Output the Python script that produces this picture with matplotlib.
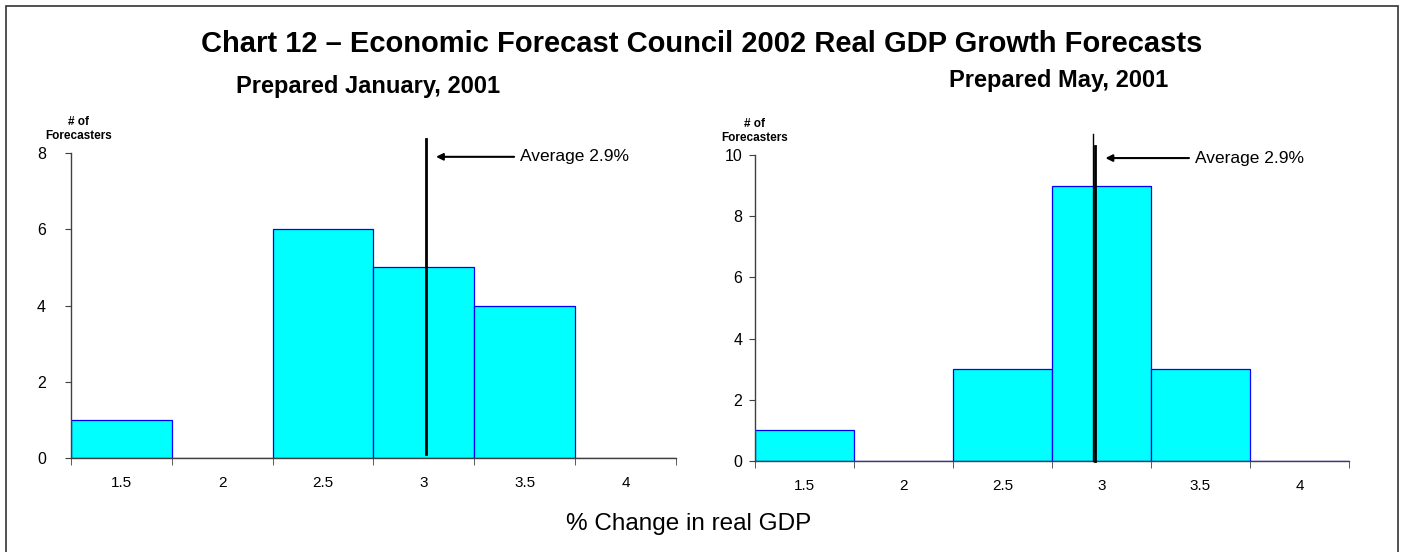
import matplotlib
matplotlib.use("Agg")
from matplotlib import pyplot as plt
from matplotlib.patches import Rectangle

plt.rcParams['font.family'] = ['Liberation Sans', 'DejaVu Sans']

# growth-rate bins (% change in real GDP) and number of forecasters in each
bins = ["1.5", "2", "2.5", "3", "3.5", "4"]
counts_jan = [1, 0, 6, 5, 4, 0]
counts_may = [1, 0, 3, 9, 3, 0]

avg_label = "Average 2.9%"
# where the average marker sits, in bin-index units
avg_pos_jan = 3.02
avg_pos_may = 2.91

FILL = "#00FFFF"
EDGE = "#0000FF"
AXIS = "#404040"


def draw_panel(ax, counts, ymax, yticks, ypad, label_x):
    x = range(len(bins))
    ax.bar(x, counts, width=1.0, color=FILL, edgecolor=EDGE, linewidth=0.9, zorder=2)
    ax.set_xlim(-0.5, len(bins) - 0.5)
    ax.set_ylim(0, ymax)
    ax.set_yticks(yticks)
    ax.set_xticks(list(x))
    ax.set_xticklabels(bins, fontsize=11)
    ax.tick_params(axis='x', length=0, pad=13)
    # tick marks on the bin boundaries
    ax.set_xticks([i - 0.5 for i in range(len(bins) + 1)], minor=True)
    ax.tick_params(axis='x', which='minor', length=5, color=AXIS, direction='out')
    ax.tick_params(axis='y', labelsize=11.5, length=4, color=AXIS, pad=ypad)
    for side in ("top", "right"):
        ax.spines[side].set_visible(False)
    for side in ("left", "bottom"):
        ax.spines[side].set_color(AXIS)
        ax.spines[side].set_linewidth(1.0)
    ax.text(label_x, 1.035, "# of\nForecasters", transform=ax.transAxes,
            ha="center", va="bottom", fontsize=8.5, fontweight="bold",
            linespacing=1.25)


fig = plt.figure(figsize=(14.03, 5.52), dpi=100)

ax1 = fig.add_axes([0.0506, 0.1703, 0.4312, 0.5525])
draw_panel(ax1, counts_jan, 8, [0, 2, 4, 6, 8], 14, 0.013)
ax1.plot([avg_pos_jan, avg_pos_jan], [0.1, 8.37], color="black", lw=2,
         clip_on=False, zorder=3)
ax1.annotate(avg_label, xy=(avg_pos_jan + 0.1, 7.9), xytext=(3.95, 7.9),
             fontsize=12.5, va="center", ha="left",
             arrowprops=dict(arrowstyle="-|>", color="black", lw=1.5,
                             mutation_scale=10, shrinkA=2, shrinkB=0))

ax2 = fig.add_axes([0.5381, 0.1649, 0.4234, 0.5543])
draw_panel(ax2, counts_may, 10, [0, 2, 4, 6, 8, 10], 5, 0.0)
ax2.plot([avg_pos_may, avg_pos_may], [0, 10.7], color="black", lw=1,
         clip_on=False, zorder=3)
ax2.plot([avg_pos_may + 0.02, avg_pos_may + 0.02], [0, 10.3], color="black",
         lw=2, clip_on=False, zorder=3)
ax2.annotate(avg_label, xy=(avg_pos_may + 0.13, 9.9), xytext=(3.94, 9.9),
             fontsize=12.5, va="center", ha="left",
             arrowprops=dict(arrowstyle="-|>", color="black", lw=1.5,
                             mutation_scale=10, shrinkA=2, shrinkB=0))

fig.text(0.5, 1 - 44 / 552,
         "Chart 12 \u2013 Economic Forecast Council 2002 Real GDP Growth Forecasts",
         ha="center", va="center", fontsize=21, fontweight="bold")
fig.text(368 / 1403, 1 - 87 / 552, "Prepared January, 2001",
         ha="center", va="center", fontsize=17, fontweight="bold")
fig.text(1059 / 1403, 1 - 80 / 552, "Prepared May, 2001",
         ha="center", va="center", fontsize=17, fontweight="bold")
fig.text(689 / 1403, 1 - 524 / 552, "% Change in real GDP",
         ha="center", va="center", fontsize=17.5)

# outer frame around the whole chart
fig.patches.append(Rectangle((6 / 1403, -0.05), 1392 / 1403, 1.05 - 6 / 552,
                             transform=fig.transFigure, fill=False,
                             edgecolor="#333333", linewidth=1.2))

fig.savefig("out.png", dpi=100)
